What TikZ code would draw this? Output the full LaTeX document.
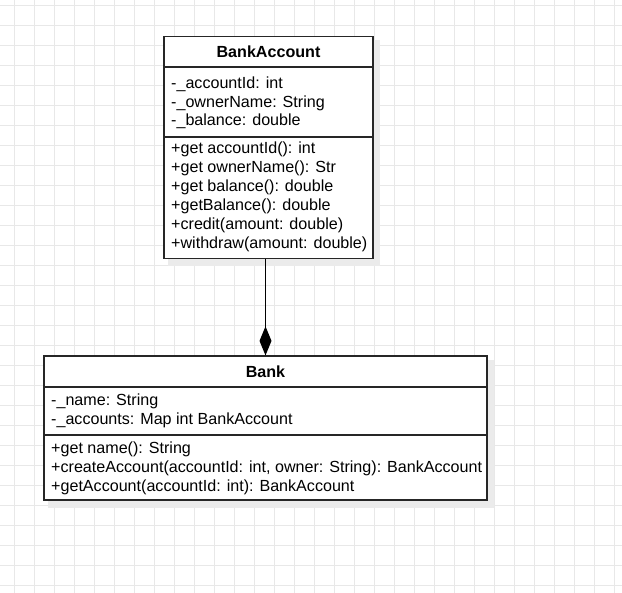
\documentclass[tikz,border=0pt]{standalone}
\usepackage{fontspec}
\setmainfont{Liberation Sans}
\usetikzlibrary{arrows.meta}
\begin{document}
\begin{tikzpicture}[x=1pt,y=-1pt,
  txt/.style={anchor=west, inner sep=0pt, font=\fontsize{16.1}{19}\selectfont, text height=11.5pt, text depth=3.5pt},
  ttl/.style={anchor=center, inner sep=0pt, font=\fontsize{16.1}{19}\selectfont\bfseries, text height=11.5pt, text depth=3.5pt},
  cls/.style={draw=black!85, line width=1.2pt, fill=white, inner sep=0pt},
  sepline/.style={draw=black!85, line width=1.2pt},
  shd/.style={fill=black!8},
  gridline/.style={draw=black!9, line width=1pt},
  conn/.style={draw=black, line width=1.2pt}]
\useasboundingbox (0,0) rectangle (622,593);
\fill[white] (0,0) rectangle (622,593);
\foreach \x in {14,34,...,614} \draw[gridline] (\x,0) -- (\x,593);
\foreach \y in {6,26,...,586} \draw[gridline] (0,\y) -- (622,\y);

% shadows
\fill[shd] (168,40) rectangle (380,266);
\fill[shd] (48,360) rectangle (494,508);

% BankAccount
\node[cls, minimum width=209pt, minimum height=222pt] (ba) at (268.5,147.5) {};
\draw[sepline] (ba.west |- 0,67) -- (ba.east |- 0,67);
\draw[sepline] (ba.west |- 0,137) -- (ba.east |- 0,137);
\node[ttl] (bat) at (268.5,54) {BankAccount};
\node[txt] (ba1) at (171,85) {-\_accountId: int};
\node[txt] (ba2) at (171,103.5) {-\_ownerName: String};
\node[txt] (ba3) at (171,122) {-\_balance: double};
\node[txt] (ba4) at (171,150) {+get accountId(): int};
\node[txt] (ba5) at (171,168.8) {+get ownerName(): Str};
\node[txt] (ba6) at (171,187.5) {+get balance(): double};
\node[txt] (ba7) at (171,206.5) {+getBalance(): double};
\node[txt] (ba8) at (171,225.5) {+credit(amount: double)};
\node[txt] (ba9) at (171,244.5) {+withdraw(amount: double)};

% Bank
\node[cls, minimum width=443pt, minimum height=144pt] (bk) at (265.5,428) {};
\draw[sepline] (bk.west |- 0,387) -- (bk.east |- 0,387);
\draw[sepline] (bk.west |- 0,435) -- (bk.east |- 0,435);
\node[ttl] (bkt) at (265.5,374) {Bank};
\node[txt] (bk1) at (51,402) {-\_name: String};
\node[txt] (bk2) at (51,420.8) {-\_accounts: Map int BankAccount};
\node[txt] (bk3) at (51,450) {+get name(): String};
\node[txt] (bk4) at (51,468.8) {+createAccount(accountId: int, owner: String): BankAccount};
\node[txt] (bk5) at (51,487.5) {+getAccount(accountId: int): BankAccount};

% composition
\draw[conn, -{Diamond[length=29pt,width=12pt]}] (bk.north |- ba.south) -- (bk.north);
\end{tikzpicture}
\end{document}
